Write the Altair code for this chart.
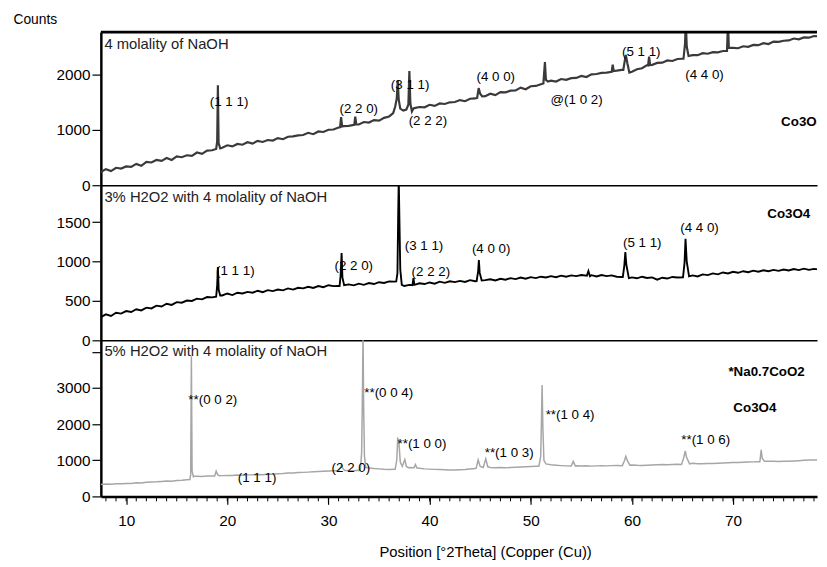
import altair as alt
import pandas as pd

FONT = "Liberation Sans, Arial, sans-serif"
X_MIN, X_MAX = 7.5, 78.3
W = 725

# sampling grid of 2-theta (0.5 degree step) for the background of each pattern
grid_x = [7.5 + 0.5 * i for i in range(143)]

base1 = [240, 290, 255, 315, 300, 340, 330, 385, 350, 420,
         410, 455, 440, 490, 455, 520, 505, 540, 530, 590,
         565, 625, 630, 660, 675, 720, 700, 745, 730, 775,
         750, 800, 780, 815, 805, 850, 830, 875, 880, 900,
         905, 945, 920, 970, 960, 1000, 1005, 1040, 1065, 1070,
         1100, 1095, 1140, 1130, 1175, 1165, 1215, 1240, 1300, 1350,
         1350, 1400, 1390, 1410, 1405, 1450, 1430, 1475, 1465, 1495,
         1500, 1535, 1515, 1560, 1565, 1600, 1605, 1650, 1625, 1680,
         1675, 1705, 1710, 1760, 1730, 1785, 1790, 1820, 1860, 1885,
         1870, 1915, 1900, 1930, 1935, 1970, 1950, 2000, 2005, 2025,
         2030, 2050, 2065, 2080, 2100, 2045, 2090, 2110, 2165, 2170,
         2205, 2210, 2250, 2240, 2275, 2280, 2330, 2345, 2345, 2380,
         2370, 2400, 2395, 2420, 2440, 2475, 2470, 2505, 2495, 2530,
         2525, 2560, 2545, 2590, 2585, 2605, 2610, 2645, 2630, 2665,
         2660, 2690, 2685]

base2 = [295, 330, 310, 350, 340, 372, 360, 395, 380, 415,
         405, 440, 430, 465, 450, 485, 478, 505, 500, 530,
         520, 550, 545, 560, 570, 595, 575, 605, 595, 615,
         605, 630, 612, 638, 625, 645, 635, 660, 645, 668,
         660, 680, 665, 690, 675, 700, 688, 690, 700, 710,
         698, 720, 705, 728, 715, 738, 728, 748, 745, 745,
         690, 705, 700, 725, 715, 735, 720, 745, 730, 750,
         740, 755, 742, 765, 750, 760, 765, 775, 760, 782,
         770, 790, 778, 798, 782, 802, 790, 808, 798, 815,
         802, 822, 808, 825, 815, 830, 820, 828, 812, 830,
         815, 825, 808, 805, 800, 800, 788, 808, 792, 800,
         770, 795, 785, 805, 798, 800, 810, 825, 812, 838,
         828, 850, 838, 862, 850, 870, 858, 878, 865, 885,
         872, 890, 878, 895, 882, 900, 888, 905, 892, 910,
         895, 908, 900]

base3 = [330, 345, 335, 352, 348, 360, 355, 375, 370, 392,
         400, 405, 415, 428, 420, 442, 450, 462, 470, 560,
         552, 565, 562, 570, 575, 582, 576, 590, 588, 596,
         600, 608, 602, 618, 615, 625, 632, 645, 650, 662,
         665, 672, 680, 690, 698, 705, 710, 712, 715, 718,
         712, 722, 720, 790, 772, 762, 750, 745, 752, 800,
         830, 800, 790, 778, 762, 755, 748, 745, 738, 732,
         728, 738, 742, 758, 772, 830, 800, 800, 790, 798,
         790, 802, 810, 815, 822, 828, 835, 835, 900, 875,
         862, 852, 845, 845, 850, 840, 848, 838, 845, 850,
         845, 852, 856, 850, 860, 870, 860, 856, 864, 870,
         876, 882, 878, 886, 890, 885, 900, 918, 905, 902,
         910, 912, 920, 925, 930, 936, 940, 946, 950, 956,
         960, 970, 975, 970, 968, 974, 976, 982, 990, 998,
         1005, 1010, 1015]

peaks1 = [
    [(18.9, 655), (19.0, 790), (19.07, 1800), (19.14, 760), (19.3, 665)],
    [(31.15, 1045), (31.25, 1230), (31.35, 1060)],
    [(32.55, 1090), (32.65, 1235), (32.75, 1095)],
    [(36.4, 1300), (36.6, 1420), (36.75, 1560), (36.85, 1890), (36.95, 1540),
     (37.1, 1380), (37.4, 1345), (37.7, 1365), (37.9, 1450), (38.0, 2060),
     (38.1, 1470), (38.25, 1330), (38.4, 1385)],
    [(44.7, 1575), (44.85, 1750), (45.0, 1650), (45.2, 1600)],
    [(51.25, 1835), (51.4, 2220), (51.5, 1900), (51.7, 1870)],
    [(58.0, 2045), (58.1, 2175), (58.2, 2060)],
    [(59.15, 2080), (59.3, 2250), (59.4, 2350), (59.55, 2200), (59.75, 2030)],
    [(61.6, 2160), (61.7, 2320), (61.8, 2165)],
    [(65.1, 2280), (65.25, 2550), (65.33, 2950), (65.42, 2500), (65.6, 2330)],
    [(69.4, 2420), (69.5, 2950), (69.58, 2480)],
]

peaks2 = [
    [(18.9, 555), (19.0, 700), (19.07, 930), (19.15, 640), (19.3, 570)],
    [(31.1, 690), (31.2, 820), (31.3, 1110), (31.38, 800), (31.55, 700)],
    [(36.7, 748), (36.82, 850), (36.9, 1650), (36.95, 2050), (37.02, 1500),
     (37.1, 900), (37.25, 705)],
    [(38.3, 700), (38.4, 790), (38.5, 705)],
    [(44.65, 752), (44.8, 880), (44.87, 1020), (44.95, 860), (45.15, 760)],
    [(55.55, 822), (55.7, 880), (55.85, 815)],
    [(59.1, 805), (59.25, 950), (59.35, 1120), (59.45, 960), (59.7, 790)],
    [(65.05, 800), (65.2, 980), (65.3, 1290), (65.42, 1000), (65.65, 812)],
]

peaks3 = [
    [(16.3, 468), (16.38, 600), (16.45, 3880), (16.52, 700), (16.65, 545), (16.8, 560)],
    [(18.75, 565), (18.9, 700), (19.05, 600), (19.2, 572)],
    [(31.0, 712), (31.2, 800), (31.3, 880), (31.4, 790), (31.6, 715)],
    [(33.15, 720), (33.28, 1200), (33.35, 2600), (33.42, 4500), (33.48, 2500),
     (33.56, 1100), (33.7, 800)],
    [(36.6, 752), (36.75, 1000), (36.85, 1600), (36.95, 1560), (37.1, 950),
     (37.3, 830), (37.55, 1020), (37.7, 830), (37.9, 795)],
    [(38.45, 792), (38.6, 880), (38.75, 786)],
    [(44.6, 775), (44.8, 1010), (45.0, 830), (45.3, 800), (45.55, 1040), (45.75, 820)],
    [(50.8, 835), (50.98, 1100), (51.05, 1975), (51.12, 3080), (51.2, 1900),
     (51.3, 1000), (51.5, 900)],
    [(54.0, 842), (54.2, 970), (54.4, 846)],
    [(59.05, 852), (59.25, 980), (59.4, 1110), (59.55, 990), (59.8, 865)],
    [(64.9, 886), (65.1, 1050), (65.28, 1260), (65.4, 1080), (65.7, 900)],
    [(72.65, 960), (72.78, 1290), (72.88, 1060), (73.1, 970)],
]

# annotations: (text, 2theta, counts)
lab1_t = ["(1 1 1)", "(2 2 0)", "(3 1 1)", "(2 2 2)", "(4 0 0)", "@(1 0 2)", "(5 1 1)", "(4 4 0)"]
lab1_x = [18.27, 31.09, 36.17, 37.93, 44.64, 51.96, 59.02, 65.27]
lab1_y = [1506, 1368, 1799, 1160, 1959, 1542, 2403, 1986]
lab2_t = ["(1 1 1)", "(2 2 0)", "(3 1 1)", "(2 2 2)", "(4 0 0)", "(5 1 1)", "(4 4 0)"]
lab2_x = [18.89, 30.6, 37.54, 38.22, 44.18, 59.12, 64.78]
lab2_y = [886, 949, 1202, 861, 1158, 1240, 1429]
lab3_t = ["**(0 0 2)", "(1 1 1)", "(2 2 0)", "**(0 0 4)", "**(1 0 0)", "**(1 0 3)", "**(1 0 4)", "**(1 0 6)"]
lab3_x = [16.15, 21.04, 30.31, 33.54, 36.83, 45.45, 51.47, 64.88]
lab3_y = [2666, 515, 775, 2871, 1460, 1200, 2255, 1570]

titles_t = ["4 molality of NaOH", "3% H2O2 with 4 molality of NaOH", "5% H2O2 with 4 molality of NaOH"]
titles_x = [7.85, 7.85, 7.85]
titles_y = [2545, 1814, 4022]

bold1_t, bold1_x, bold1_y = ["Co3O4"], [74.75], [1142]
bold2_t, bold2_x, bold2_y = ["Co3O4"], [73.38], [1609]
bold3_t, bold3_x, bold3_y = ["*Na0.7CoO2", "Co3O4"], [69.54, 70.03], [3438, 2433]

x_ticks = [10, 20, 30, 40, 50, 60, 70]
minor_ticks = list(range(8, 79))


def build(base, peaks):
    pts = list(zip(grid_x, base))
    for pk in peaks:
        lo, hi = pk[0][0], pk[-1][0]
        pts = [p for p in pts if not (lo - 0.05 <= p[0] <= hi + 0.05)]
        pts += pk
    pts.sort()
    return pd.DataFrame(pts, columns=["theta", "counts"])


def tdf(t, x, y):
    return pd.DataFrame({"label": t, "theta": x, "counts": y})


def panel(df, color, sw, ymax, yvals, h, labs, title_i, bolds, first=False, last=False):
    if last:
        xaxis = alt.Axis(values=x_ticks, tickCount=20, grid=False, domainColor="black", domainWidth=2.5,
                         tickColor="black", tickWidth=1.2, tickSize=8, labelPadding=9,
                         labelFont=FONT, labelFontSize=15.5, labelColor="black", labelFlush=False,
                         format="d",
                         title="Position [°2Theta] (Copper (Cu))", titleFont=FONT, titleFontSize=15,
                         titleFontWeight="normal", titleColor="black", titleX=389, titleY=56,
                         titleAlign="center", titleBaseline="middle")
    else:
        xaxis = alt.Axis(labels=False, ticks=False, domainColor="black", domainWidth=1.5,
                         grid=False, title=None)
    yargs = dict(values=yvals, tickCount=20, grid=False, domainColor="black", domainWidth=2.5,
                 tickColor="black", tickWidth=1.2, tickSize=9, labelPadding=2, format="d",
                 labelFont=FONT, labelFontSize=15.5, labelColor="black", labelOverlap=False,
                 labelExpr="datum.value == 4000 ? '' : datum.label")
    if first:
        yargs.update(title="Counts", titleAngle=0, titleAlign="left", titleBaseline="middle",
                     titleX=-89, titleY=-12.5, titleFont=FONT, titleFontSize=14,
                     titleFontWeight="normal", titleColor="black")
    else:
        yargs.update(title=None)
    x = alt.X("theta:Q", scale=alt.Scale(domain=[X_MIN, X_MAX], nice=False, zero=False), axis=xaxis)
    y = alt.Y("counts:Q", scale=alt.Scale(domain=[0, ymax], nice=False, zero=True), axis=alt.Axis(**yargs))
    line = alt.Chart(df).mark_line(color=color, strokeWidth=sw, clip=True).encode(x=x, y=y)
    txt = alt.Chart(labs).mark_text(align="left", baseline="middle", font=FONT, fontSize=13.5,
                                    color="black", clip=True).encode(
        x="theta:Q", y="counts:Q", text="label:N")
    ttl = alt.Chart(tdf([titles_t[title_i]], [titles_x[title_i]], [titles_y[title_i]])).mark_text(
        align="left", baseline="middle", font=FONT, fontSize=15, color="#222222").encode(
        x="theta:Q", y="counts:Q", text="label:N")
    bld = alt.Chart(bolds).mark_text(align="left", baseline="middle", font=FONT, fontSize=13.5,
                                     fontWeight="bold", color="black", clip=True).encode(
        x="theta:Q", y="counts:Q", text="label:N")
    layers = [line, txt, ttl, bld]
    if first:
        frame = alt.Chart(pd.DataFrame({"theta": [X_MIN]})).mark_rule(
            color="black", strokeWidth=3).encode(x=alt.value(0), x2=alt.value(W), y=alt.value(0))
        layers.append(frame)
    if last:
        minor = alt.Chart(pd.DataFrame({"theta": minor_ticks})).mark_rule(
            color="black", strokeWidth=1).encode(x="theta:Q", y=alt.value(h), y2=alt.value(h + 5))
        layers.append(minor)
    return alt.layer(*layers).properties(width=W, height=h)


p1 = panel(build(base1, peaks1), "#3a3a3a", 2.2, 2760, [0, 1000, 2000], 155,
           tdf(lab1_t, lab1_x, lab1_y), 0, tdf(bold1_t, bold1_x, bold1_y), first=True)
p2 = panel(build(base2, peaks2), "#000000", 1.9, 1970, [0, 500, 1000, 1500], 157,
           tdf(lab2_t, lab2_x, lab2_y), 1, tdf(bold2_t, bold2_x, bold2_y))
p3 = panel(build(base3, peaks3), "#a6a6a6", 1.5, 4320, [0, 1000, 2000, 3000, 4000], 158,
           tdf(lab3_t, lab3_x, lab3_y), 2, tdf(bold3_t, bold3_x, bold3_y), last=True)

chart = alt.vconcat(p1, p2, p3, spacing=0, bounds="flush").resolve_scale(
    y="independent").properties(
    padding={"left": 4, "top": 1, "right": 0, "bottom": 0}).configure_view(stroke="transparent")

chart.save("out.html", embed_options={"renderer": "svg", "actions": False})
